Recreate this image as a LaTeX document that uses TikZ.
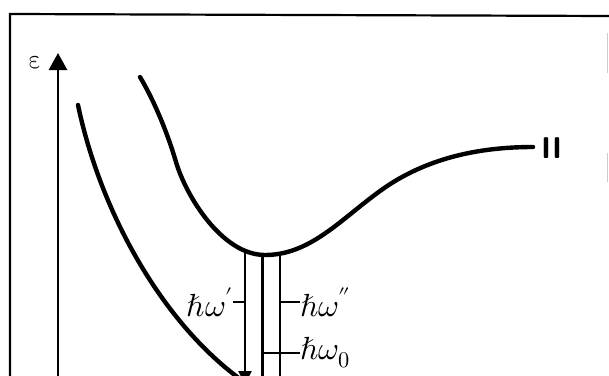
\documentclass[tikz,border=0pt]{standalone}
\usepackage{unicode-math}
\setmathfont{Latin Modern Math}
\usetikzlibrary{arrows.meta}
\begin{document}
\begin{tikzpicture}[x=1pt,y=-1pt,
  curve/.style={line width=4.4pt,line cap=round,line join=round},
  thinline/.style={line width=2.2pt},
  lbl/.style={inner sep=0pt,font=\fontsize{32}{34}\selectfont},
  bigtip/.style={-{Triangle[length=17pt,width=18pt]}},
  smalltip/.style={-{Triangle[length=14pt,width=13pt]}}]
\useasboundingbox (0,0) rectangle (609,375);
% frame
\coordinate (fl) at (10,378);
\coordinate (ftl) at (10,14);
\coordinate (ftr) at (612,16);
\draw[line width=2.2pt] (fl) -- (ftl) -- (ftr);
% faint marks at right edge
\draw[gray!40,line width=1pt] (607,33) -- (607,73) (607,153) -- (607,182);
% energy axis
\coordinate (a0) at (58,380);
\coordinate (a1) at (58,53);
\draw[line width=2.6pt,bigtip] (a0) -- (a1);
\node[lbl,font=\fontsize{27}{29}\selectfont] (eps) at (36,63) {$\upvarepsilon$};
% left curve
\coordinate (L0) at (78,105);
\coordinate (L1) at (240,379);
\draw[curve] (L0) .. controls (100,210) and (160,320) .. (L1);
% upper curve
\coordinate (U0) at (140,77);
\coordinate (Ua) at (176,162);
\coordinate (Um) at (265,255);
\coordinate (Ui) at (380,191);
\coordinate (U1) at (533,147);
\draw[curve] (U0) .. controls (152,97) and (166,128) .. (Ua)
  .. controls (186,196) and (222,255) .. (Um)
  .. controls (310,255) and (340,220) .. (Ui)
  .. controls (420,162) and (470,147) .. (U1);
\node[lbl,font=\fontsize{30}{32}\selectfont\sffamily\bfseries,anchor=west] (II) at (541,148) {II};
% transitions
\coordinate (t1) at (245,252);
\coordinate (b1) at (245,385);
\coordinate (t2) at (262.5,255);
\coordinate (b2) at (262.5,380);
\coordinate (t3) at (280,253);
\coordinate (b3) at (280,380);
\draw[thinline,smalltip] (t1) -- (b1);
\draw[line width=3.4pt] (t2) -- (b2);
\draw[thinline] (t3) -- (b3);
% ticks and labels
\coordinate (k1) at (245,302);
\coordinate (k2) at (280,302);
\coordinate (k3) at (262.5,353);
\node[lbl,anchor=east] (w1) at (233,302) {$\hbar\omega'$};
\node[lbl,anchor=west] (w2) at (300,302) {$\hbar\omega''$};
\node[lbl,anchor=west] (w0) at (300,353) {$\hbar\omega_0$};
\draw[thinline] (w1.east) -- (k1);
\draw[thinline] (k2) -- (w2.west);
\draw[thinline] (k3) -- (w0.west);
\end{tikzpicture}
\end{document}
